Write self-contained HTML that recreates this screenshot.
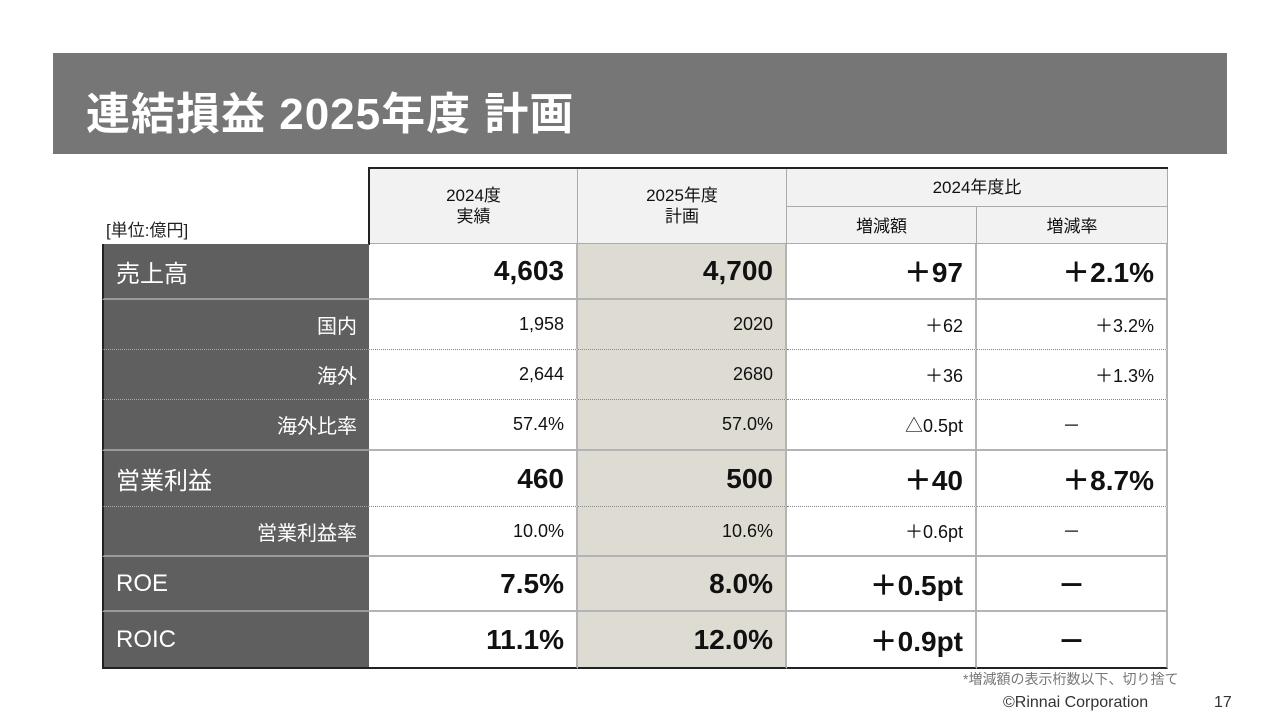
<!DOCTYPE html>
<html><head><meta charset="utf-8"><style>
body{margin:0;width:1280px;height:720px;background:#fff;position:relative;overflow:hidden;font-family:"Liberation Sans","Noto Sans CJK JP",sans-serif}
.a{position:absolute;box-sizing:border-box}
.hd{background:#f2f2f2;border-right:1px solid #aaa;border-bottom:1px solid #aaa;text-align:center;font-size:17px;color:#111;line-height:21px}
.c{display:flex;align-items:center;justify-content:flex-end;padding-right:12px;border-right:2px solid #b4b4b4}
</style></head><body>
<div class="a" style="left:53px;top:53px;width:1174px;height:101px;background:#767676"></div>
<div class="a" style="left:86px;top:78px;font-size:44px;font-weight:bold;color:#fff;white-space:nowrap;letter-spacing:1px">連結損益 2025年度 計画</div>
<div class="a" style="left:106px;top:216px;font-size:17px;color:#222">[単位:億円]</div>
<div class="a" style="left:368px;top:167px;width:800px;height:78px;border-top:2px solid #222;border-left:2px solid #222"></div>
<div class="a hd" style="left:370px;top:169px;width:208px;height:75px;padding-top:16px">2024度<br>実績</div>
<div class="a hd" style="left:578px;top:169px;width:209px;height:75px;padding-top:16px">2025年度<br>計画</div>
<div class="a hd" style="left:787px;top:169px;width:381px;height:38px;padding-top:8px">2024年度比</div>
<div class="a hd" style="left:787px;top:207px;width:190px;height:37px;padding-top:9px">増減額</div>
<div class="a hd" style="left:977px;top:207px;width:191px;height:37px;padding-top:9px">増減率</div>
<div id="tbl"></div>
<div class="a" style="left:963px;top:669px;font-size:14px;color:#777">*増減額の表示桁数以下、切り捨て</div>
<div class="a" style="left:1003px;top:694px;font-size:16px;color:#333">©Rinnai Corporation</div>
<div class="a" style="left:1214px;top:694px;font-size:16px;color:#333">17</div>
<script>
const labels=["売上高","国内","海外","海外比率","営業利益","営業利益率","ROE","ROIC"];
const major=[1,0,0,0,1,0,1,1];
const actual2024=["4,603","1,958","2,644","57.4%","460","10.0%","7.5%","11.1%"];
const plan2025=["4,700","2020","2680","57.0%","500","10.6%","8.0%","12.0%"];
const changeAmt=["＋97","＋62","＋36","△0.5pt","＋40","＋0.6pt","＋0.5pt","＋0.9pt"];
const changeRate=["＋2.1%","＋3.2%","＋1.3%","－","＋8.7%","－","－","－"];
const rowTops=[244,300,350,400,451,507,557,612,668];
const sep=["solid","dotted","dotted","solid","dotted","solid","solid","black"];
const cols=[[102,267],[369,209],[578,209],[787,190],[977,190]];
const tbl=document.getElementById('tbl');
for(let i=0;i<labels.length;i++){
  const top=rowTops[i],h=rowTops[i+1]-top;
  const vals=[labels[i],actual2024[i],plan2025[i],changeAmt[i],changeRate[i]];
  const b=sep[i]=="black"?"2px solid #222":sep[i]=="dotted"?"1px dotted #888":"2px solid #b4b4b4";
  for(let j=0;j<5;j++){
    const d=document.createElement('div');
    
    
    d.className='a c';
    d.textContent=vals[j];
    let s=`left:${cols[j][0]}px;top:${top}px;width:${cols[j][1]+(j==4?1:0)}px;height:${h+(sep[i]=="black"?1:0)}px;border-bottom:${b};`;
    s+=`font-size:${major[i]?28:18}px;font-weight:${major[i]?'bold':'normal'};color:#111;`;
    if(j==0){
      s+=`background:#5f5f5f;color:#fff;font-weight:normal;font-size:${major[i]?24:20}px;border-right:none;border-left:2px solid #222;`;
      if(sep[i]!="black") s+=`border-bottom:${sep[i]=="dotted"?"1px dotted #aaa":"2px solid #9a9a9a"};`;
      if(major[i]) s+='justify-content:flex-start;padding-left:12px;';
    }
    if(j==2) s+='background:#dedbd2;';
    if(j==4&&vals[j]=="－") s+='justify-content:center;padding-right:0;';
    if(j==4&&vals[j]!="－"&&!major[i]) s+='padding-right:12px;';
    d.style.cssText=s;
    tbl.appendChild(d);
  }
}
</script>
</body></html>
